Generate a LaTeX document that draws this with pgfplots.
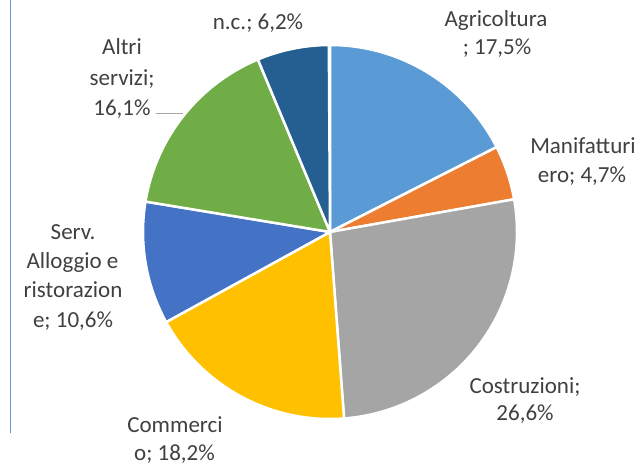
\documentclass[border=0pt]{standalone}
\usepackage{fontspec}
\setmainfont{Carlito}
\usepackage{pgfplots}
\usepackage{pgfplotstable}
\pgfplotsset{compat=1.18}
\definecolor{pie0}{HTML}{5B9BD5}
\definecolor{pie1}{HTML}{ED7D31}
\definecolor{pie2}{HTML}{A5A5A5}
\definecolor{pie3}{HTML}{FFC000}
\definecolor{pie4}{HTML}{4472C4}
\definecolor{pie5}{HTML}{70AD47}
\definecolor{pie6}{HTML}{255E91}
\definecolor{txt}{HTML}{404040}
\definecolor{frame}{HTML}{6F96D1}
\pgfplotstableread[col sep=comma]{
name,value
Agricoltura,17.5
Manifatturiero,4.7
Costruzioni,26.6
Commercio,18.2
Serv. Alloggio e ristorazione,10.6
Altri servizi,16.1
n.c.,6.2
}\piedata
\newcommand\lbl[3]{\node[anchor=base, inner sep=0pt, text=txt, font=\fontsize{23bp}{28bp}\selectfont] at (axis cs:#1,#2) {#3};}
\begin{document}
\begin{tikzpicture}
\useasboundingbox (0,0) rectangle (642bp,467bp);
\xdef\cum{90}
\pgfplotstableforeachcolumnelement{value}\of\piedata\as\v{%
  \pgfmathsetmacro\b{\cum-3.6*\v}%
  \expandafter\xdef\csname sa\pgfplotstablerow\endcsname{\cum}%
  \expandafter\xdef\csname ea\pgfplotstablerow\endcsname{\b}%
  \xdef\cum{\b}%
}
\begin{axis}[at={(0,0)}, anchor=south west, width=642bp, height=467bp, scale only axis,
  xmin=0, xmax=642, ymin=0, ymax=467, y dir=reverse, hide axis, clip=false]
\pgfplotsinvokeforeach{0,...,6}{
  \filldraw[fill=pie#1, draw=white, line width=2.5bp, line join=round]
    (axis cs:330,232) -- (axis cs:{330+187*cos(\csname sa#1\endcsname)},{232-187*sin(\csname sa#1\endcsname)})
    arc[start angle=\csname sa#1\endcsname, end angle=\csname ea#1\endcsname, radius=187bp] -- cycle;
}
\draw[frame, line width=1.5bp] (axis cs:10.5,0) -- (axis cs:10.5,433);
\draw[black!35, line width=1bp] (axis cs:156,113.5) -- (axis cs:183,113.5);
\lbl{258}{30}{n.c.; 6,2\%}
\lbl{122}{55}{Altri}
\lbl{122}{86}{servizi;}
\lbl{122}{115}{16,1\%}
\lbl{496}{27}{Agricoltura}
\lbl{497}{55}{; 17,5\%}
\lbl{583}{153}{Manifatturi}
\lbl{582}{182}{ero; 4,7\%}
\lbl{525}{393}{Costruzioni;}
\lbl{525}{420}{26,6\%}
\lbl{175}{432}{Commerci}
\lbl{174.5}{460}{o; 18,2\%}
\lbl{73}{239}{Serv.}
\lbl{72.5}{268}{Alloggio e}
\lbl{73}{297}{ristorazion}
\lbl{73}{327}{e; 10,6\%}
\end{axis}
\end{tikzpicture}
\end{document}
